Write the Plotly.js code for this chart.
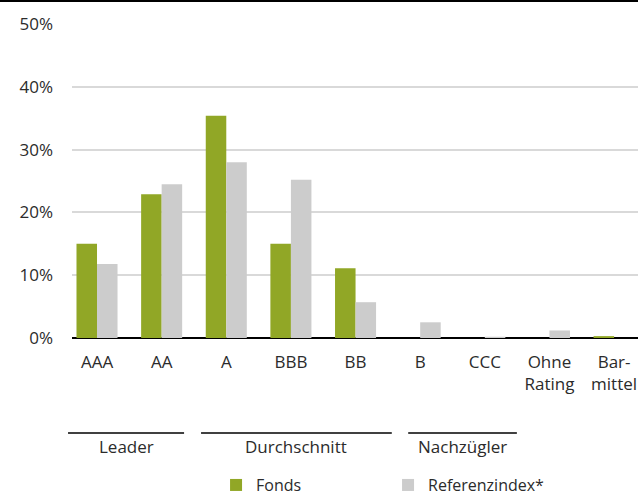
<!DOCTYPE html>
<html>
<head>
<meta charset="utf-8">
<script src="https://cdn.plot.ly/plotly-3.0.1.min.js"></script>
<style>html,body{margin:0;padding:0;background:#fff;}#chart{width:638px;height:498px;}</style>
</head>
<body>
<div id="chart"></div>
<script>
var categories = ["AAA", "AA", "A", "BBB", "BB", "B", "CCC", "Ohne<br>Rating", "Bar-<br>mittel"];
var fonds = [15.0, 22.9, 35.4, 15.0, 11.1, 0, 0, 0, 0.3];
var referenz = [11.8, 24.5, 28.0, 25.2, 5.7, 2.5, 0.2, 1.2, 0];
var seriesNames = ["Fonds", "Referenzindex*"];
var yTickVals = [0, 10, 20, 30, 40, 50];
var yTickText = ["0%", "10%", "20%", "30%", "40%", "50%"];
var groupNames = ["Leader", "Durchschnitt", "Nachzügler"];

var FONT = "Open Sans, Noto Sans, sans-serif";
var TXT = "#2b2b2b";
var traces = [
  {type: "bar", name: seriesNames[0], x: categories, y: fonds, marker: {color: "#91a726"}, hoverinfo: "y"},
  {type: "bar", name: seriesNames[1], x: categories, y: referenz, marker: {color: "#cccccc"}, hoverinfo: "y"}
];

var groupSpans = [[-0.007, 0.198], [0.228, 0.565], [0.594, 0.786]];
var shapes = [
  {type: "line", xref: "paper", yref: "paper", x0: -0.13, x1: 1.0, y0: 1.073, y1: 1.073, line: {color: "#000", width: 2}}
];
var annotations = [];
groupSpans.forEach(function (s, i) {
  shapes.push({type: "line", xref: "paper", yref: "paper", x0: s[0], x1: s[1], y0: -0.3025, y1: -0.3025, line: {color: "#000", width: 1.5}});
  annotations.push({xref: "paper", yref: "paper", x: (s[0] + s[1]) / 2, y: -0.346, text: groupNames[i], showarrow: false, xanchor: "center", yanchor: "middle", font: {family: FONT, size: 17, color: TXT}});
});

var layout = {
  width: 638, height: 498,
  margin: {l: 72, r: 0, t: 24, b: 160},
  paper_bgcolor: "#fff", plot_bgcolor: "#fff",
  barmode: "group", bargap: 0.365, bargroupgap: 0,
  font: {family: FONT, size: 17, color: TXT},
  xaxis: {
    type: "category", range: [-0.387, 8.37], showgrid: false, zeroline: false, automargin: false,
    showline: false, ticks: "", ticklabelstandoff: 12, tickfont: {family: FONT, size: 17, color: TXT}, fixedrange: true
  },
  yaxis: {
    range: [0, 50], tickvals: yTickVals, ticktext: yTickText, showgrid: true, gridcolor: "#d9d9d9", gridwidth: 2,
    zeroline: true, zerolinecolor: "#000", zerolinewidth: 2.5, showline: false, ticks: "", ticklabelstandoff: 18, automargin: false,
    tickfont: {family: FONT, size: 17, color: TXT}, fixedrange: true
  },
  showlegend: true,
  legend: {orientation: "h", xref: "paper", x: 0.2545, xanchor: "left", yref: "container", y: 0.026, yanchor: "middle",
    font: {family: FONT, size: 16, color: TXT}, entrywidth: 127, itemwidth: 30, traceorder: "normal"},
  shapes: shapes,
  annotations: annotations
};

Plotly.newPlot("chart", traces, layout, {displayModeBar: false, staticPlot: true});
</script>
</body>
</html>
